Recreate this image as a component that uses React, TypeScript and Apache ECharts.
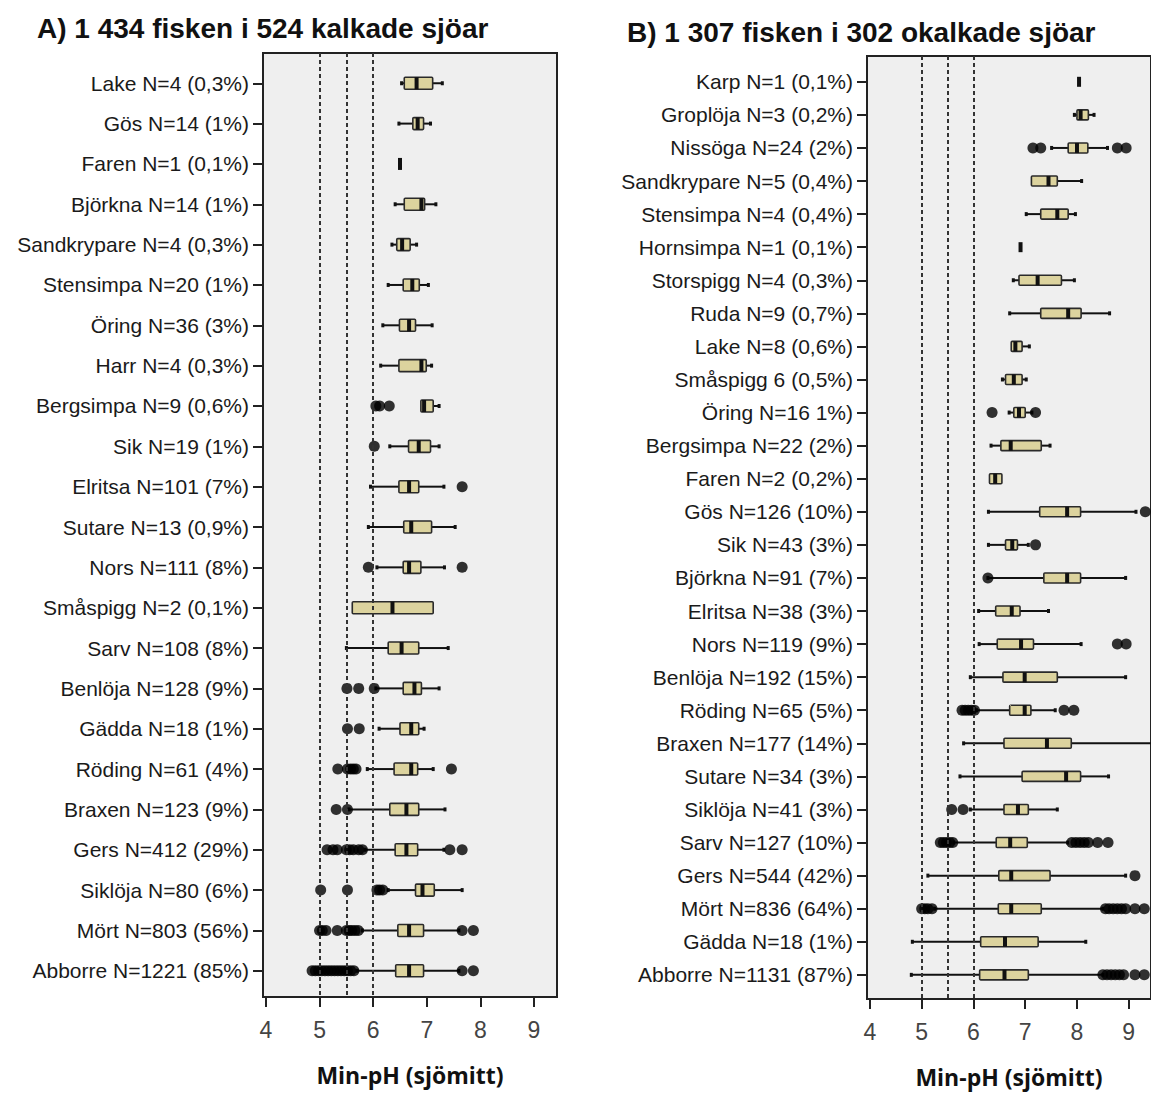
import React, { useEffect, useRef } from "react";
import * as echarts from "echarts";

// ---------- Data ----------
const titleA = "A) 1 434 fisken i 524 kalkade sjöar";
const titleB = "B) 1 307 fisken i 302 okalkade sjöar";
const axisName = "Min-pH (sjömitt)";
const xTicks = [4, 5, 6, 7, 8, 9];
const refLines = [5, 5.5, 6];

const catsA = [
  "Lake N=4 (0,3%)", "Gös N=14 (1%)", "Faren N=1 (0,1%)", "Björkna N=14 (1%)",
  "Sandkrypare N=4 (0,3%)", "Stensimpa N=20 (1%)", "Öring N=36 (3%)", "Harr N=4 (0,3%)",
  "Bergsimpa N=9 (0,6%)", "Sik N=19 (1%)", "Elritsa N=101 (7%)", "Sutare N=13 (0,9%)",
  "Nors N=111 (8%)", "Småspigg N=2 (0,1%)", "Sarv N=108 (8%)", "Benlöja N=128 (9%)",
  "Gädda N=18 (1%)", "Röding N=61 (4%)", "Braxen N=123 (9%)", "Gers N=412 (29%)",
  "Siklöja N=80 (6%)", "Mört N=803 (56%)", "Abborre N=1221 (85%)",
];

// [min, Q1, median, Q3, max]
const boxesA = [
  [6.53, 6.58, 6.81, 7.11, 7.29],
  [6.48, 6.74, 6.83, 6.94, 7.07],
  [6.5, 6.5, 6.5, 6.5, 6.5],
  [6.41, 6.58, 6.9, 6.96, 7.17],
  [6.35, 6.44, 6.54, 6.69, 6.81],
  [6.28, 6.56, 6.73, 6.86, 7.03],
  [6.18, 6.49, 6.67, 6.79, 7.1],
  [6.14, 6.48, 6.9, 6.99, 7.09],
  [6.89, 6.89, 6.95, 7.12, 7.23],
  [6.31, 6.66, 6.85, 7.07, 7.23],
  [5.95, 6.48, 6.67, 6.85, 7.32],
  [5.91, 6.57, 6.71, 7.09, 7.53],
  [6.07, 6.56, 6.67, 6.89, 7.33],
  [5.61, 5.61, 6.36, 7.12, 7.12],
  [5.5, 6.28, 6.53, 6.85, 7.4],
  [6.05, 6.56, 6.77, 6.9, 7.23],
  [6.11, 6.5, 6.71, 6.85, 6.95],
  [5.89, 6.39, 6.71, 6.83, 7.12],
  [5.55, 6.31, 6.62, 6.85, 7.34],
  [5.85, 6.41, 6.62, 6.83, 7.32],
  [6.28, 6.79, 6.92, 7.14, 7.66],
  [5.8, 6.46, 6.67, 6.94, 7.6],
  [5.7, 6.42, 6.67, 6.94, 7.6],
];

const outliersA = [
  [], [], [], [], [], [], [], [],
  [6.05, 6.12, 6.3],
  [6.02],
  [7.66],
  [],
  [5.91, 7.66],
  [],
  [],
  [5.51, 5.73, 6.02],
  [5.52, 5.74],
  [5.34, 5.52, 5.58, 5.63, 5.68, 7.46],
  [5.31, 5.52],
  [5.14, 5.25, 5.33, 5.5, 5.56, 5.63, 5.73, 5.8, 7.43, 7.66],
  [5.02, 5.52, 6.07, 6.12, 6.18],
  [5.0, 5.05, 5.12, 5.33, 5.5, 5.55, 5.6, 5.66, 5.72, 7.66, 7.87],
  [4.86, 4.92, 4.98, 5.04, 5.1, 5.16, 5.22, 5.28, 5.34, 5.4, 5.46, 5.52, 5.58, 5.64, 7.66, 7.87],
];

const catsB = [
  "Karp N=1 (0,1%)", "Groplöja N=3 (0,2%)", "Nissöga N=24 (2%)", "Sandkrypare N=5 (0,4%)",
  "Stensimpa N=4 (0,4%)", "Hornsimpa N=1 (0,1%)", "Storspigg N=4 (0,3%)", "Ruda N=9 (0,7%)",
  "Lake N=8 (0,6%)", "Småspigg 6 (0,5%)", "Öring N=16 1%)", "Bergsimpa N=22 (2%)",
  "Faren N=2 (0,2%)", "Gös N=126 (10%)", "Sik N=43 (3%)", "Björkna N=91 (7%)",
  "Elritsa N=38 (3%)", "Nors N=119 (9%)", "Benlöja N=192 (15%)", "Röding N=65 (5%)",
  "Braxen N=177 (14%)", "Sutare N=34 (3%)", "Siklöja N=41 (3%)", "Sarv N=127 (10%)",
  "Gers N=544 (42%)", "Mört N=836 (64%)", "Gädda N=18 (1%)", "Abborre N=1131 (87%)",
];

const boxesB = [
  [8.04, 8.04, 8.04, 8.04, 8.04],
  [7.95, 8.0, 8.07, 8.22, 8.33],
  [7.51, 7.83, 8.0, 8.21, 8.59],
  [7.12, 7.12, 7.45, 7.62, 8.09],
  [7.02, 7.3, 7.62, 7.83, 7.97],
  [6.91, 6.91, 6.91, 6.91, 6.91],
  [6.77, 6.88, 7.24, 7.7, 7.95],
  [6.7, 7.3, 7.83, 8.08, 8.63],
  [6.73, 6.73, 6.81, 6.94, 7.08],
  [6.56, 6.62, 6.78, 6.94, 7.02],
  [6.69, 6.78, 6.88, 7.0, 7.13],
  [6.34, 6.53, 6.72, 7.31, 7.48],
  [6.31, 6.31, 6.42, 6.55, 6.55],
  [6.29, 7.28, 7.81, 8.07, 9.14],
  [6.29, 6.62, 6.75, 6.85, 7.06],
  [6.28, 7.36, 7.81, 8.07, 8.94],
  [6.1, 6.43, 6.74, 6.9, 7.45],
  [6.11, 6.46, 6.92, 7.16, 8.08],
  [5.94, 6.57, 6.99, 7.62, 8.94],
  [6.06, 6.7, 6.99, 7.11, 7.58],
  [5.81, 6.59, 7.42, 7.89, 9.5],
  [5.74, 6.94, 7.79, 8.07, 8.61],
  [5.94, 6.59, 6.86, 7.06, 7.62],
  [5.62, 6.44, 6.71, 7.04, 7.82],
  [5.12, 6.49, 6.73, 7.48, 8.94],
  [5.25, 6.48, 6.73, 7.31, 8.5],
  [4.82, 6.14, 6.61, 7.25, 8.17],
  [4.8, 6.12, 6.6, 7.06, 8.5],
];

const outliersB = [
  [], [],
  [7.15, 7.3, 8.78, 8.95],
  [], [], [], [], [], [], [],
  [6.36, 7.2],
  [],
  [],
  [9.32],
  [7.2],
  [6.28],
  [],
  [8.78, 8.95],
  [],
  [5.78, 5.84, 5.9, 5.96, 6.02, 7.75, 7.94],
  [],
  [],
  [5.58, 5.8],
  [5.36, 5.42, 5.48, 5.54, 5.6, 7.9, 7.98, 8.06, 8.14, 8.22, 8.4, 8.6],
  [9.12],
  [5.0, 5.06, 5.12, 5.2, 8.55, 8.62, 8.7, 8.78, 8.86, 8.94, 9.12, 9.3],
  [],
  [8.5, 8.58, 8.66, 8.74, 8.82, 8.9, 9.12, 9.3],
];

// ---------- Styles ----------
const BOX_FILL = "#dcd39e";
const INK = "#111";
const LABEL_FONT = "'Liberation Sans', Arial, sans-serif";

function makeRender(boxH: number) {
  return (params: any, api: any) => {
    const i = api.value(0);
    const vals = [1, 2, 3, 4, 5].map((k) => api.value(k));
    const pts = vals.map((v) => api.coord([v, i]));
    const cy = pts[0][1];
    const [pMin, pQ1, pMed, pQ3, pMax] = pts.map((p: number[]) => p[0]);
    const children: any[] = [];
    const lineStyle = { stroke: INK, lineWidth: 2 };
    if (pQ1 > pMin) {
      children.push({ type: "line", shape: { x1: pMin, y1: cy, x2: pQ1, y2: cy }, style: lineStyle });
      children.push({ type: "line", shape: { x1: pMin, y1: cy - 2, x2: pMin, y2: cy + 2 }, style: { stroke: INK, lineWidth: 3 } });
    }
    if (pMax > pQ3) {
      children.push({ type: "line", shape: { x1: pQ3, y1: cy, x2: pMax, y2: cy }, style: lineStyle });
      children.push({ type: "line", shape: { x1: pMax, y1: cy - 2, x2: pMax, y2: cy + 2 }, style: { stroke: INK, lineWidth: 3 } });
    }
    if (pQ3 > pQ1) {
      children.push({
        type: "rect",
        shape: { x: pQ1, y: cy - boxH / 2, width: pQ3 - pQ1, height: boxH, r: 1 },
        style: { fill: BOX_FILL, stroke: "#2a2a2a", lineWidth: 1.6 },
      });
    }
    children.push({
      type: "rect",
      shape: { x: pMed - 2, y: cy - boxH / 2, width: 4, height: boxH },
      style: { fill: INK },
    });
    return { type: "group", children };
  };
}

function panel(idx: number, cats: string[], boxes: number[][], outs: number[][], grid: any, yMin: number, yMax: number, boxH: number) {
  const xAxis = {
    gridIndex: idx,
    type: "value",
    position: "bottom",
    min: 3.944,
    max: 9.43,
    name: axisName,
    nameLocation: "middle",
    nameGap: 66,
    nameTextStyle: { fontSize: 23, fontWeight: "bold", fontFamily: "'Open Sans', sans-serif", color: "#111" },
    axisLine: { show: true, onZero: false, lineStyle: { color: "#222", width: 2 } },
    axisTick: { show: true, customValues: xTicks, length: 10, lineStyle: { color: "#222", width: 2 } },
    axisLabel: { customValues: xTicks, fontSize: 23, color: "#444", fontFamily: LABEL_FONT, margin: 21 },
    splitLine: { show: false },
  };
  const yVals = cats.map((_, k) => k);
  const yAxis = {
    gridIndex: idx,
    type: "value",
    position: "left",
    inverse: true,
    min: yMin,
    max: yMax,
    axisLine: { show: true, onZero: false, lineStyle: { color: "#222", width: 2 } },
    axisTick: { show: true, customValues: yVals, length: 10, lineStyle: { color: "#222", width: 2 } },
    axisLabel: {
      customValues: yVals,
      fontSize: 21,
      color: "#1a1a1a",
      fontFamily: LABEL_FONT,
      margin: 14,
      formatter: (v: number) => cats[Math.round(v)] ?? "",
    },
    splitLine: { show: false },
  };
  const boxData = boxes.map((b, k) => [k, ...b]);
  const outData: number[][] = [];
  outs.forEach((arr, k) => arr.forEach((v) => outData.push([v, k])));
  const series = [
    {
      type: "custom",
      xAxisIndex: idx,
      yAxisIndex: idx,
      renderItem: makeRender(boxH),
      encode: { x: [1, 2, 3, 4, 5], y: 0 },
      data: boxData,
      z: 3,
      clip: true,
    },
    {
      type: "scatter",
      xAxisIndex: idx,
      yAxisIndex: idx,
      symbol: "circle",
      symbolSize: 11,
      itemStyle: { color: "#000" },
      data: outData,
      z: 4,
      markLine: {
        silent: true,
        symbol: "none",
        label: { show: false },
        lineStyle: { type: [4, 3], color: "#333", width: 2 },
        data: refLines.map((v) => ({ xAxis: v })),
      },
    },
  ];
  return { xAxis, yAxis, series, grid };
}

export default function App() {
  const ref = useRef<HTMLDivElement>(null);
  useEffect(() => {
    if (!ref.current) return;
    const chart = echarts.init(ref.current, null, { renderer: "svg" });
    const gridStyle = { show: true, backgroundColor: "#efefef", borderColor: "#222", borderWidth: 2 };
    const a = panel(0, catsA, boxesA, outliersA, { left: 263, top: 53, width: 294, height: 944, ...gridStyle }, -0.75, 22.65, 12);
    const b = panel(1, catsB, boxesB, outliersB, { left: 867, top: 56, width: 293, height: 943, ...gridStyle }, -0.78, 27.73, 10);
    chart.setOption({
      animation: false,
      backgroundColor: "#fff",
      title: [
        { text: titleA, left: 37, top: 14, padding: 0, textStyle: { fontSize: 28, fontWeight: "bold", color: "#111", fontFamily: LABEL_FONT } },
        { text: titleB, left: 627, top: 18, padding: 0, textStyle: { fontSize: 28, fontWeight: "bold", color: "#111", fontFamily: LABEL_FONT } },
      ],
      grid: [a.grid, b.grid],
      xAxis: [a.xAxis, b.xAxis],
      yAxis: [a.yAxis, b.yAxis],
      series: [...a.series, ...b.series],
    });
    return () => chart.dispose();
  }, []);
  return <div ref={ref} style={{ position: "absolute", left: 0, top: 0, width: 1151, height: 1093 }} />;
}
